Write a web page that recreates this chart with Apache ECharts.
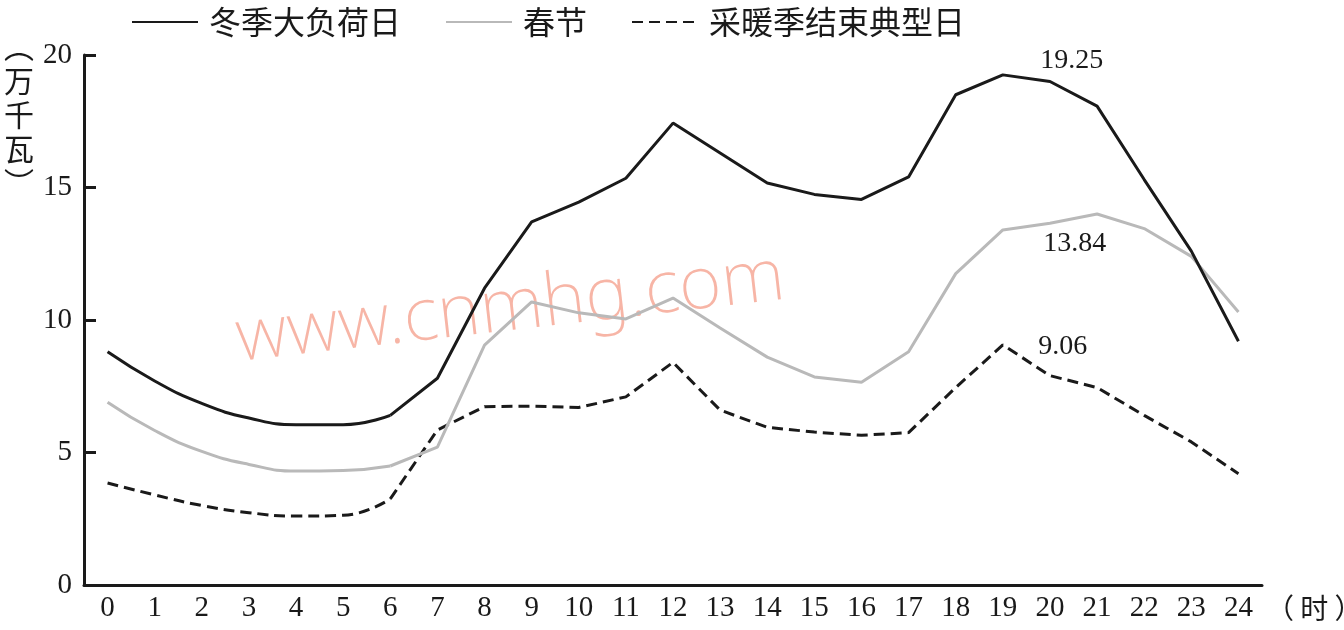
<!DOCTYPE html>
<html>
<head>
<meta charset="utf-8">
<script src="https://cdn.jsdelivr.net/npm/echarts@6/dist/echarts.min.js"></script>
<style>html,body{margin:0;padding:0;background:#fff}#c{width:1344px;height:630px}</style>
</head>
<body>
<div id="c"></div>
<script>
// ---- data ----
const hours = ['0','1','2','3','4','5','6','7','8','9','10','11','12','13','14','15','16','17','18','19','20','21','22','23','24'];
const seriesNames = ['冬季大负荷日', '春节', '采暖季结束典型日'];
const winterPeak = [8.8, 7.7, 6.85, 6.3, 6.05, 6.05, 6.4, 7.8, 11.2, 13.7, 14.45, 15.35, 17.43, 16.3, 15.17, 14.74, 14.55, 15.4, 18.5, 19.25, 19.0, 18.07, 15.3, 12.6, 9.2];
const springFest = [6.9, 5.83, 5.04, 4.55, 4.3, 4.32, 4.49, 5.2, 9.05, 10.68, 10.27, 10.04, 10.83, 9.7, 8.6, 7.85, 7.65, 8.8, 11.75, 13.4, 13.65, 14.0, 13.45, 12.4, 10.3];
const heatEnd = [3.85, 3.4, 3.0, 2.73, 2.6, 2.63, 3.25, 5.85, 6.73, 6.75, 6.7, 7.1, 8.4, 6.6, 5.95, 5.77, 5.65, 5.75, 7.45, 9.06, 7.9, 7.45, 6.4, 5.4, 4.2];
const peakLabels = ['19.25', '13.84', '9.06'];
const peakHour = 19;
const yTicks = [0, 5, 10, 15, 20];

const curveEnd = 6; // night section drawn as a smooth curve
const serif = '"Liberation Serif", "Times New Roman", "Noto Sans CJK SC", serif';
const cjk = '"Noto Sans CJK SC", sans-serif';

function part(arr, from, to) {
  return arr.map((v, i) => (i >= from && i <= to) ? v : '-');
}

const colors = ['#1a1a1a', '#b9b9b9', '#1a1a1a'];
const types = ['solid', 'solid', [11, 6]];
const all = [winterPeak, springFest, heatEnd];
const labelOffsets = [[69, -14], [72, 14], [60, 2]];

const series = [];
all.forEach((arr, k) => {
  const common = {
    name: seriesNames[k], type: 'line', symbol: 'none',
    lineStyle: { color: colors[k], width: 3, type: types[k] },
    itemStyle: { color: colors[k] },
    z: 5 - k
  };
  series.push(Object.assign({}, common, { smooth: 0.5, data: part(arr, 0, curveEnd) }));
  series.push(Object.assign({}, common, {
    data: part(arr, curveEnd, hours.length - 1),
    markPoint: {
      symbol: 'rect', symbolSize: 1, itemStyle: { color: 'rgba(0,0,0,0)' },
      label: { show: true, position: 'inside', offset: labelOffsets[k], color: '#1a1a1a', fontFamily: serif, fontSize: 28, formatter: peakLabels[k] },
      data: [{ coord: [hours[peakHour], arr[peakHour]] }]
    }
  }));
});

const chart = echarts.init(document.getElementById('c'), null, { renderer: 'canvas' });
chart.setOption({
  animation: false,
  backgroundColor: '#fff',
  grid: { left: 84, right: 82, top: 55, bottom: 45, containLabel: false, outerBoundsMode: 'none' },
  legend: {
    data: seriesNames, left: 126, top: 1, itemWidth: 66, itemHeight: 14, itemGap: 44,
    itemStyle: { opacity: 0 },
    textStyle: { fontFamily: cjk, fontSize: 32, color: '#1a1a1a', padding: [0, 0, 0, 6] }
  },
  xAxis: {
    type: 'category', data: hours, boundaryGap: true,
    name: '（ 时 ）', nameLocation: 'end', nameGap: 4,
    nameTextStyle: { fontFamily: cjk, fontSize: 28, color: '#1a1a1a', verticalAlign: 'top', padding: [9, 0, 0, 0] },
    axisLine: { lineStyle: { color: '#1a1a1a', width: 3 } },
    axisTick: { inside: true, length: 10, lineStyle: { width: 3, color: '#1a1a1a' } },
    axisLabel: { interval: 0, fontFamily: serif, fontSize: 29, color: '#1a1a1a', margin: 9 }
  },
  yAxis: {
    type: 'value', min: yTicks[0], max: yTicks[yTicks.length - 1], interval: 5,
    splitLine: { show: false },
    axisLine: { show: true, lineStyle: { color: '#1a1a1a', width: 3 } },
    axisTick: { show: true, inside: true, length: 12, lineStyle: { width: 3, color: '#1a1a1a' } },
    axisLabel: { fontFamily: serif, fontSize: 29, color: '#1a1a1a', margin: 12 }
  },
  graphic: [
    { type: 'text', left: 4, top: 30, style: { text: '︵\n万\n千\n瓦\n︶', font: '30px "Noto Sans CJK SC"', lineHeight: 34, fill: '#1a1a1a' } },
    { type: 'text', x: 232, y: 304, rotation: 6.5 * Math.PI / 180, originX: 0, originY: 0, z: -10,
      style: { text: 'www.cnmhg.com', font: '200 73px "Noto Sans", "Open Sans", sans-serif', fill: 'rgba(244,150,128,0.7)' } }
  ],
  series: series
});
</script>
</body>
</html>
